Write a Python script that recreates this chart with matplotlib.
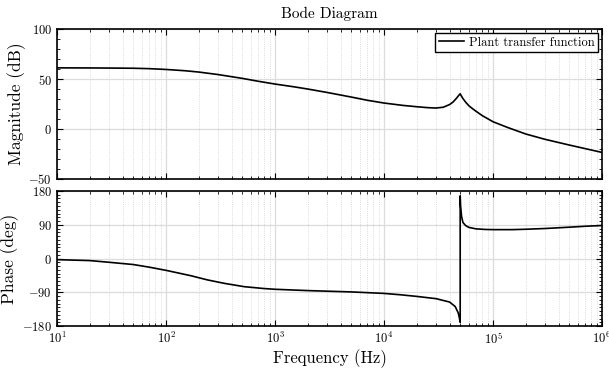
import matplotlib
matplotlib.use("Agg")
import matplotlib.pyplot as plt
from matplotlib.ticker import MultipleLocator, LogLocator, NullFormatter

plt.rcParams['font.family'] = 'serif'
plt.rcParams['font.serif'] = ['cmr10', 'DejaVu Serif']
plt.rcParams['mathtext.fontset'] = 'cm'
plt.rcParams['axes.unicode_minus'] = False
plt.rcParams['axes.formatter.use_mathtext'] = True

# Values
mag_freq = [10, 20, 30, 50, 70, 100, 150, 200, 300, 500, 700, 1000, 1500, 2000,
            3000, 5000, 7000, 10000, 15000, 20000, 25000, 30000, 35000, 40000,
            43000, 46000, 48000, 49500, 50000, 51000, 53000, 56000, 60000, 65000,
            70000, 80000, 100000, 135000, 200000, 300000, 500000, 700000, 1000000]
mag_db = [61.2, 61.1, 61.0, 60.8, 60.4, 59.6, 58.3, 57.0, 54.5, 50.7, 47.8, 45.0,
          42.2, 40.0, 36.6, 32.0, 28.8, 26.0, 23.6, 22.3, 21.4, 21.0, 21.8, 24.5,
          27.0, 30.5, 33.0, 34.8, 35.3, 33.5, 30.5, 27.0, 23.3, 20.3,
          17.7, 13.3, 7.3, 1.7, -5.0, -10.3, -16.0, -19.6, -23.4]

ph_freq = [10, 20, 30, 50, 70, 100, 170, 240, 340, 520, 790, 1000, 2000, 5000,
           10000, 14000, 20000, 30000, 40000, 45000, 48000, 49300, 49800, 50000,
           50001, 50400, 51500, 53000, 56000, 60000, 70000, 85000, 100000,
           150000, 200000, 300000, 500000, 700000, 1000000]
ph_deg = [-3, -5.5, -10, -16, -23, -31.5, -46, -57, -66, -75, -80, -82, -85.5,
          -89, -93, -96.5, -101, -107, -116, -128, -145, -160, -168, -170,
          167, 140, 112, 96, 88, 83, 79, 77.5, 77,
          77, 78, 80, 83.5, 86, 88]

fig = plt.figure(figsize=(6.09, 3.68), dpi=100)
ax1 = fig.add_axes([0.0936, 0.5136, 0.8949, 0.4074])
ax2 = fig.add_axes([0.0936, 0.114, 0.8949, 0.367])

ax1.semilogx(mag_freq, mag_db, color='black', lw=1.2, label='Plant transfer function')
ax2.semilogx(ph_freq, ph_deg, color='black', lw=1.2)

for ax in (ax1, ax2):
    ax.set_xlim(10, 1e6)
    ax.xaxis.set_major_locator(LogLocator(base=10, numticks=10))
    ax.xaxis.set_minor_locator(LogLocator(base=10, subs=range(2, 10), numticks=50))
    ax.xaxis.set_minor_formatter(NullFormatter())
    ax.grid(True, which='major', color='#dcdcdc', lw=0.9, ls='-')
    ax.grid(True, which='minor', axis='x', color='#cfcfcf', lw=0.6, ls=':')
    ax.set_axisbelow(True)
    ax.tick_params(which='both', direction='in', top=True, right=True, labelsize=9)
    ax.tick_params(which='major', length=4)
    ax.tick_params(which='minor', length=2)
    for s in ax.spines.values():
        s.set_linewidth(1.2)

ax1.set_ylim(-50, 100)
ax1.yaxis.set_major_locator(MultipleLocator(50))
ax1.yaxis.set_minor_locator(MultipleLocator(10))
ax1.tick_params(labelbottom=False)
ax1.set_ylabel('Magnitude (dB)', fontsize=12.5, labelpad=2)
ax1.set_title('Bode Diagram', fontsize=11, pad=8)
leg = ax1.legend(loc='upper right', fontsize=9, fancybox=False, framealpha=1,
                 edgecolor='black', borderpad=0.3, handlelength=2.0,
                 handletextpad=0.4, borderaxespad=0.3)
leg.get_frame().set_linewidth(1.0)

ax2.set_ylim(-180, 180)
ax2.yaxis.set_major_locator(MultipleLocator(90))
ax2.yaxis.set_minor_locator(MultipleLocator(10))
ax2.set_ylabel('Phase (deg)', fontsize=12.5, labelpad=2)
ax2.set_xlabel('Frequency (Hz)', fontsize=12, labelpad=2)

fig.savefig('out.png', dpi=100)
